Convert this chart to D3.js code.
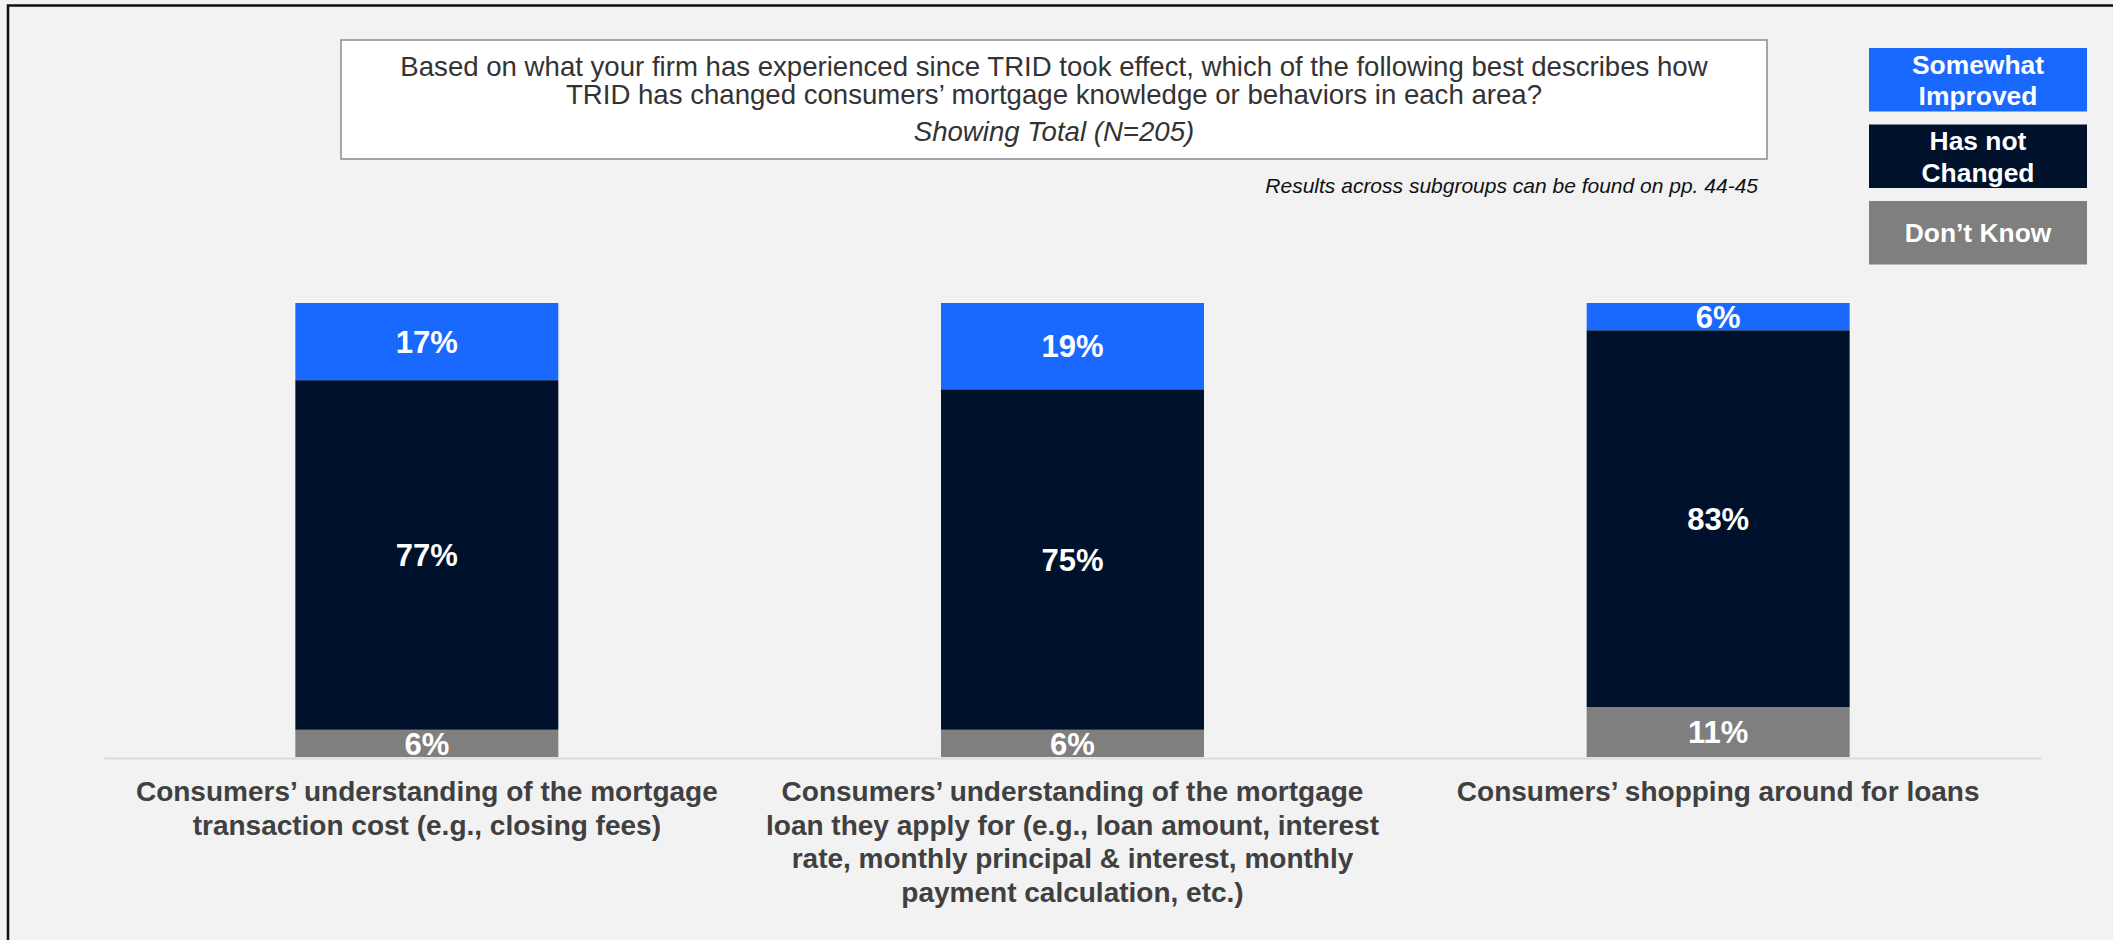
<!DOCTYPE html>
<html>
<head>
<meta charset="utf-8">
<script src="https://cdn.jsdelivr.net/npm/d3@7"></script>
<style>
  html, body { margin: 0; padding: 0; background: #f2f2f2; }
  svg { display: block; font-family: "Liberation Sans", Arial, Helvetica, sans-serif; }
</style>
</head>
<body>
<svg id="chart" width="2113" height="940"></svg>
<script>
// Survey areas (each label already split into its display lines)
const categories = ["cost", "loan", "shopping"];
const categoryLines = [
  ["Consumers’ understanding of the mortgage", "transaction cost (e.g., closing fees)"],
  ["Consumers’ understanding of the mortgage", "loan they apply for (e.g., loan amount, interest",
   "rate, monthly principal & interest, monthly", "payment calculation, etc.)"],
  ["Consumers’ shopping around for loans"]
];

// Response shares, percent of total (N=205)
const somewhatImproved = [17, 19, 6];
const hasNotChanged = [77, 75, 83];
const dontKnow = [6, 6, 11];

const seriesKeys = ["dontKnow", "hasNotChanged", "somewhatImproved"];
const legendLabels = [["Somewhat", "Improved"], ["Has not", "Changed"], ["Don’t Know"]];
const legendKeys = ["somewhatImproved", "hasNotChanged", "dontKnow"];

const titleLines = [
  "Based on what your firm has experienced since TRID took effect, which of the following best describes how",
  "TRID has changed consumers’ mortgage knowledge or behaviors in each area?"
];
const subtitleLine = "Showing Total (N=205)";
const noteLine = "Results across subgroups can be found on pp. 44-45";

const colors = {
  somewhatImproved: "#1a69ff",
  hasNotChanged: "#00112b",
  dontKnow: "#7f7f7f"
};

const svg = d3.select("#chart");

// Page frame (top and left rules)
svg.append("path")
  .attr("d", "M8,2113 L8,5.5 L2113,5.5")
  .attr("fill", "none")
  .attr("stroke", "#111")
  .attr("stroke-width", 2.5);

// Question box
const tb = svg.append("g");
tb.append("rect")
  .attr("x", 341).attr("y", 40).attr("width", 1426).attr("height", 119)
  .attr("fill", "#ffffff")
  .attr("stroke", "#8a8a8a").attr("stroke-width", 1.5);
const titleBase = [75.5, 104];
tb.selectAll("text.q").data(titleLines).join("text")
  .attr("class", "q")
  .attr("x", 1054).attr("y", (d, i) => titleBase[i])
  .attr("text-anchor", "middle")
  .attr("font-size", 27.6)
  .attr("fill", "#333")
  .text(d => d);
tb.append("text")
  .attr("x", 1054).attr("y", 141)
  .attr("text-anchor", "middle")
  .attr("font-size", 27.6)
  .attr("font-style", "italic")
  .attr("fill", "#333")
  .text(subtitleLine);

svg.append("text")
  .attr("x", 1758).attr("y", 193)
  .attr("text-anchor", "end")
  .attr("font-size", 21)
  .attr("font-style", "italic")
  .attr("fill", "#111")
  .text(noteLine);

// Legend
const legend = svg.append("g");
const lg = legend.selectAll("g").data(legendKeys).join("g")
  .attr("transform", (d, i) => `translate(1869,${48 + i * 76.5})`);
lg.append("rect")
  .attr("width", 218).attr("height", 63.5)
  .attr("fill", d => colors[d]);
lg.append("text")
  .attr("x", 109)
  .attr("text-anchor", "middle")
  .attr("font-size", 26.4)
  .attr("font-weight", "bold")
  .attr("fill", "#ffffff")
  .each(function (d, i) {
    const lines = legendLabels[i];
    const lh = 31.7;
    const first = 31.75 - (lines.length - 1) * lh / 2 + 9.7;
    d3.select(this).selectAll("tspan").data(lines).join("tspan")
      .attr("x", 109)
      .attr("y", (t, j) => first + j * lh)
      .text(t => t);
  });

// Scales
const x = d3.scaleBand()
  .domain(categories)
  .range([104, 2041])
  .paddingInner(0.5927)
  .paddingOuter(0.5927 / 2);

const y = d3.scaleLinear().domain([0, 100]).range([757, 303]);

const table = categories.map((c, i) => ({
  category: c,
  somewhatImproved: somewhatImproved[i],
  hasNotChanged: hasNotChanged[i],
  dontKnow: dontKnow[i]
}));

const stacked = d3.stack().keys(seriesKeys)(table);

// Baseline axis
const axis = svg.append("g")
  .attr("transform", "translate(0,758)")
  .call(d3.axisBottom(x).tickSize(0).tickSizeOuter(0).tickFormat(() => ""));
axis.select(".domain").attr("stroke", "#d9d9d9").attr("stroke-width", 2);

// Stacked bars
const layers = svg.append("g").selectAll("g").data(stacked).join("g")
  .attr("fill", d => colors[d.key]);

layers.selectAll("rect").data(d => d).join("rect")
  .attr("x", d => x(d.data.category))
  .attr("width", x.bandwidth())
  .attr("y", d => y(d[1]))
  .attr("height", d => y(d[0]) - y(d[1]));

// Value labels centered in each segment
const labels = svg.append("g");
stacked.forEach(layer => {
  labels.selectAll(null).data(layer).join("text")
    .attr("x", d => x(d.data.category) + x.bandwidth() / 2)
    .attr("y", d => (y(d[0]) + y(d[1])) / 2)
    .attr("dy", "0.36em")
    .attr("text-anchor", "middle")
    .attr("font-size", 31)
    .attr("font-weight", "bold")
    .attr("fill", "#ffffff")
    .text(d => `${d.data[layer.key]}%`);
});

// Category labels
svg.append("g").selectAll("text").data(categories).join("text")
  .attr("text-anchor", "middle")
  .attr("font-size", 28)
  .attr("font-weight", "bold")
  .attr("fill", "#404040")
  .each(function (c, i) {
    const cx = x(c) + x.bandwidth() / 2;
    d3.select(this).selectAll("tspan").data(categoryLines[i]).join("tspan")
      .attr("x", cx)
      .attr("y", (t, j) => 801 + j * 33.6)
      .text(t => t);
  });
</script>
</body>
</html>
